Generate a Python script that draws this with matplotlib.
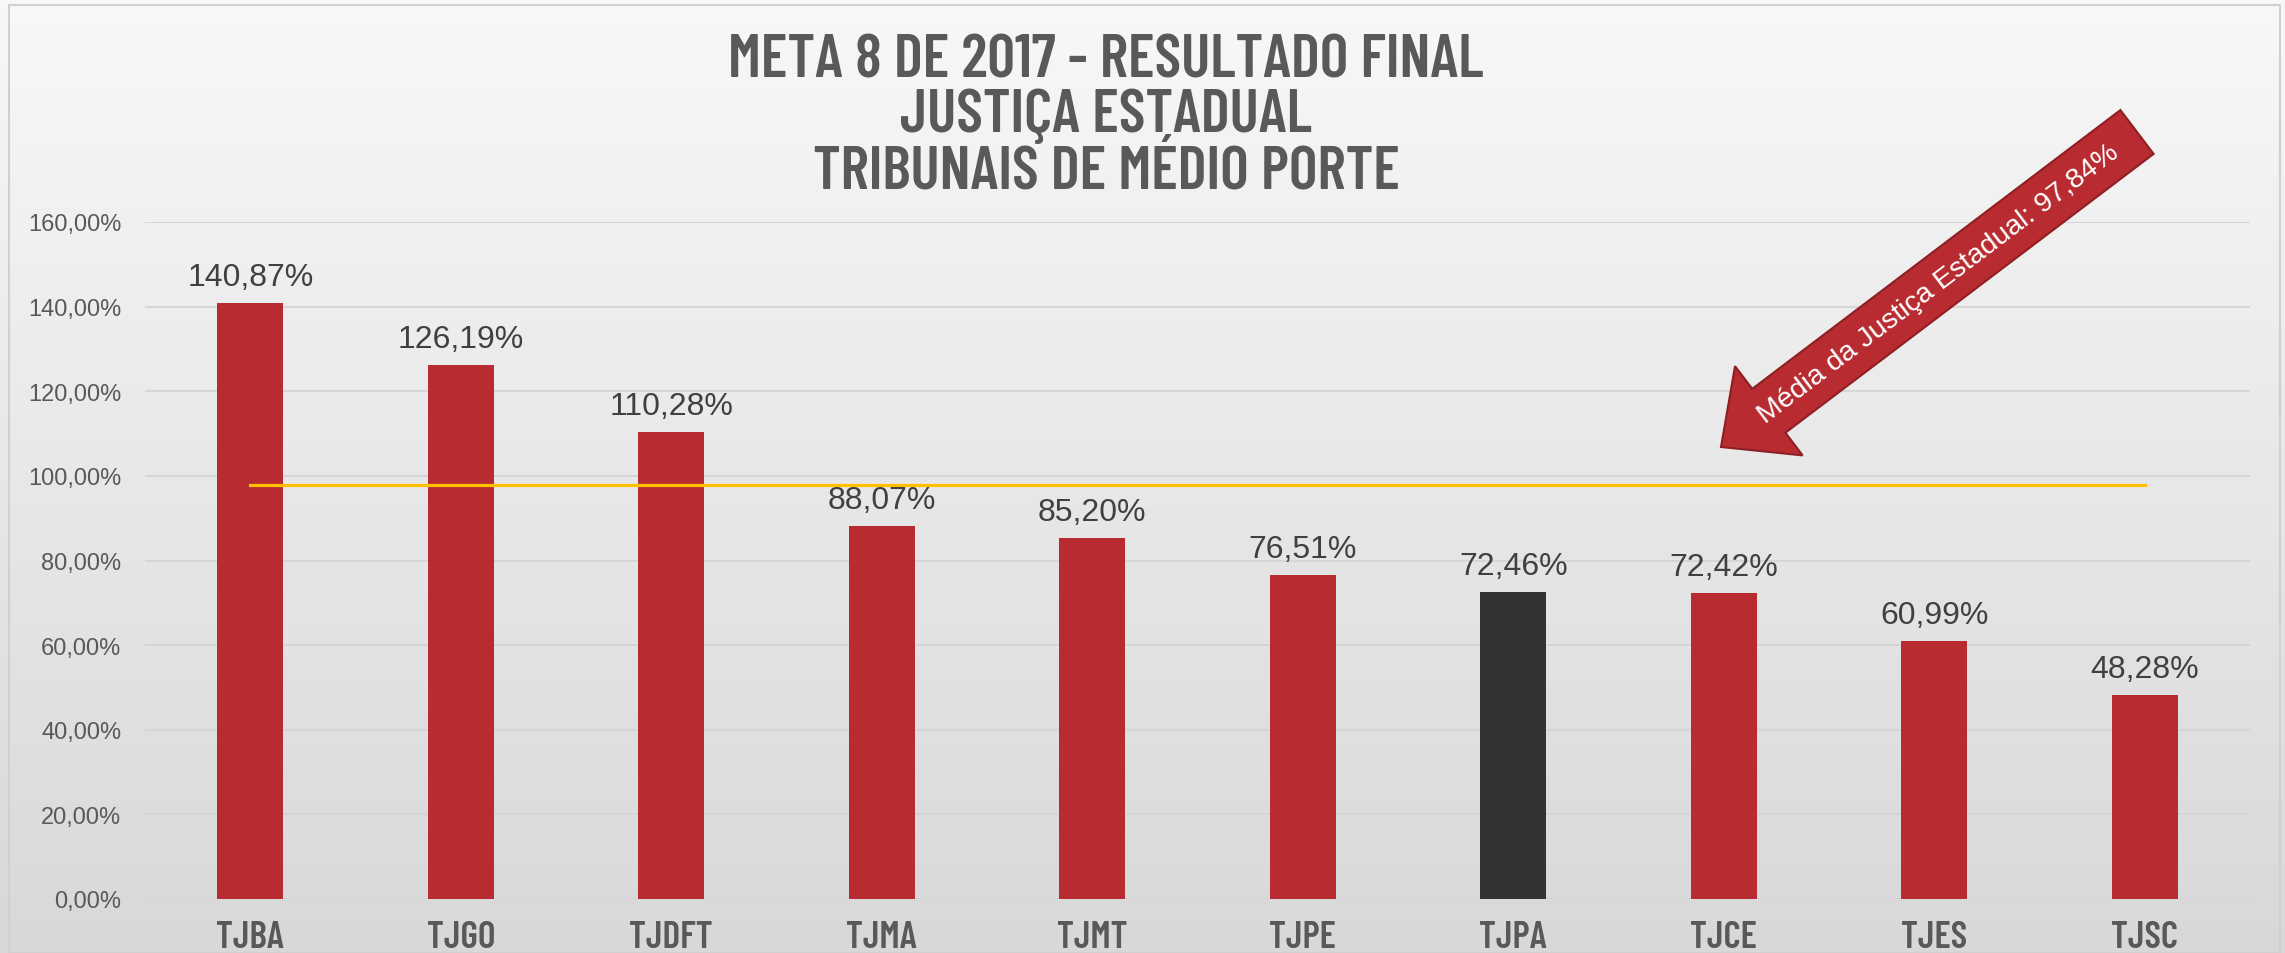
import numpy as np
import matplotlib
matplotlib.use("Agg")
import matplotlib.pyplot as plt
from matplotlib.patches import FancyArrow
from matplotlib.transforms import IdentityTransform

# dados
tribunais = ["TJBA", "TJGO", "TJDFT", "TJMA", "TJMT", "TJPE", "TJPA", "TJCE", "TJES", "TJSC"]
resultado = [140.87, 126.19, 110.28, 88.07, 85.20, 76.51, 72.46, 72.42, 60.99, 48.28]
media_estadual = 97.84
destaque = "TJPA"
yticks = [0, 20, 40, 60, 80, 100, 120, 140, 160]

titulo = "META 8 DE 2017 - RESULTADO FINAL\nJUSTIÇA ESTADUAL\nTRIBUNAIS DE MÉDIO PORTE"
texto_seta = "Média da Justiça Estadual: 97,84%"

VERMELHO = "#B82C31"
ESCURO = "#333333"
CINZA = "#595959"
COND = ["Barlow Condensed", "Roboto Condensed", "Liberation Sans"]
ARIAL = ["Liberation Sans", "DejaVu Sans"]

W, H, DPI = 2285, 954, 100
fig = plt.figure(figsize=(W / DPI, H / DPI), dpi=DPI)

# fundo em degrade
bg = fig.add_axes([0, 0, 1, 1], zorder=-10)
grad = np.linspace(0, 1, 256).reshape(-1, 1)
bg.imshow(grad, aspect="auto", cmap=matplotlib.colors.LinearSegmentedColormap.from_list(
    "g", ["#F8F8F8", "#D8D8D8"]), extent=[0, 1, 0, 1], origin="upper")
bg.set_xlim(0, 1)
bg.set_ylim(0, 1)
bg.axis("off")
# borda
bg.plot([0.004, 0.004, 0.998, 0.998, 0.004], [0.0, 0.994, 0.994, 0.0, 0.0],
        color="#D0D0D0", lw=1.5, transform=bg.transAxes, clip_on=False)

ax = fig.add_axes([145 / W, 1 - 900 / H, (2250 - 145) / W, (900 - 223) / H])
ax.patch.set_alpha(0)
x = np.arange(len(tribunais))
cores = [ESCURO if t == destaque else VERMELHO for t in tribunais]
ax.bar(x, resultado, width=0.315, color=cores, zorder=3)

# linha da media
ax.plot([x[0], x[-1]], [media_estadual, media_estadual], color="#FFC000", lw=2.3, zorder=4)

for xi, v in zip(x, resultado):
    ax.text(xi, v + 2.6, f"{v:.2f}%".replace(".", ","), ha="center", va="bottom",
            fontsize=23, color="#404040", family=ARIAL, zorder=5)

ax.set_xlim(-0.5, len(tribunais) - 0.5)
ax.set_ylim(0, 160)
ax.set_yticks(yticks)
ax.set_yticklabels([f"{t:.2f}%".replace(".", ",") for t in yticks], fontsize=17,
                   color=CINZA, family=ARIAL)
ax.set_xticks(x)
ax.set_xticklabels(tribunais, fontsize=27, fontweight=600, color=CINZA, family=COND)
ax.tick_params(axis="y", length=0, pad=17)
ax.tick_params(axis="x", length=0, pad=15)
ax.grid(axis="y", color="#D4D4D4", lw=1.3, zorder=0)
for s in ax.spines.values():
    s.set_visible(False)

fig.text(1106 / W, 1 - 117 / H, titulo, ha="center", va="center", fontsize=44,
         fontweight=600, color=CINZA, family=COND, linespacing=1.0,
         multialignment="center")

# seta de anotacao (coordenadas em pixels da figura)
cauda = (2137, H - 133)
ponta = (1721, H - 448)
seta = FancyArrow(cauda[0], cauda[1], ponta[0] - cauda[0], ponta[1] - cauda[1],
                  width=55, head_width=112, head_length=60, length_includes_head=True,
                  facecolor=VERMELHO, edgecolor="#8E1F23", lw=1.5,
                  transform=IdentityTransform(), figure=fig)
fig.patches.append(seta)
ang = np.degrees(np.arctan2(cauda[1] - ponta[1], cauda[0] - ponta[0]))
fig.text(1938 / W, 1 - 284 / H, texto_seta, rotation=ang, rotation_mode="anchor",
         ha="center", va="center", fontsize=20.5, color="white", family=ARIAL)

fig.savefig("out.png", dpi=DPI)
